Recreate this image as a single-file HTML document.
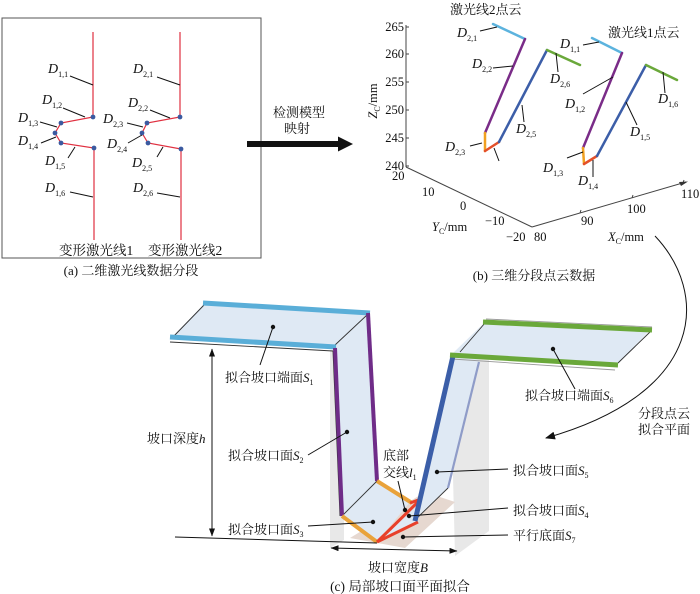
<!DOCTYPE html>
<html><head><meta charset="utf-8"><style>
html,body{margin:0;padding:0;background:#fff}
svg{display:block}
.c{font-family:"Liberation Serif","Noto Serif CJK SC",serif;font-size:13px;fill:#111}
.d{font-family:"Liberation Serif",serif;font-size:14px;font-style:italic;fill:#111}
.n{font-family:"Liberation Serif",serif;font-size:12.5px;fill:#111}
.s{font-size:8px;font-style:normal}
</style></head><body>
<svg width="700" height="594" viewBox="0 0 700 594" xmlns="http://www.w3.org/2000/svg">
<defs>
<marker id="ah" markerWidth="10" markerHeight="8" refX="9" refY="4" orient="auto" markerUnits="userSpaceOnUse">
<path d="M0,0 L10,4 L0,8 Z" fill="#111"/></marker>
<marker id="ahs" markerWidth="8" markerHeight="6" refX="7.5" refY="3" orient="auto" markerUnits="userSpaceOnUse">
<path d="M0,0 L8,3 L0,6 Z" fill="#111"/></marker>
<marker id="ahr" markerWidth="8" markerHeight="6" refX="0.5" refY="3" orient="auto" markerUnits="userSpaceOnUse">
<path d="M8,0 L0,3 L8,6 Z" fill="#111"/></marker>
</defs>

<!-- ===== Panel (a) ===== -->
<rect x="2" y="18" width="259" height="240" fill="none" stroke="#555" stroke-width="1"/>
<g stroke="#e03040" stroke-width="1.2" fill="none">
<polyline points="93,32 93,117 61,123 55,133 61,143 94,148 94,240"/>
<polyline points="180,32 180,117 147,123 142,133 148,143 181,149 181,240"/>
</g>
<g fill="#3b5aa0">
<circle cx="93" cy="117" r="2.4"/><circle cx="61" cy="123" r="2.4"/><circle cx="55" cy="133" r="2.4"/><circle cx="61" cy="143" r="2.4"/><circle cx="94" cy="148" r="2.4"/>
<circle cx="180" cy="117" r="2.4"/><circle cx="147" cy="123" r="2.4"/><circle cx="142" cy="133" r="2.4"/><circle cx="148" cy="143" r="2.4"/><circle cx="181" cy="149" r="2.4"/>
</g>
<g stroke="#111" stroke-width="1">
<line x1="70" y1="76" x2="93" y2="85"/>
<line x1="63" y1="108" x2="85" y2="117"/>
<line x1="40" y1="122" x2="57" y2="127"/>
<line x1="41" y1="143" x2="56" y2="137"/>
<line x1="68" y1="158" x2="75" y2="147"/>
<line x1="70" y1="192" x2="93" y2="197"/>
<line x1="157" y1="77" x2="180" y2="85"/>
<line x1="150" y1="110" x2="170" y2="118"/>
<line x1="127" y1="123" x2="143" y2="127"/>
<line x1="128" y1="143" x2="142" y2="135"/>
<line x1="157" y1="157" x2="163" y2="147"/>
<line x1="157" y1="193" x2="180" y2="197"/>
</g>
<text class="d" x="48" y="73">D<tspan class="s" dy="4">1,1</tspan></text>
<text class="d" x="42" y="104">D<tspan class="s" dy="4">1,2</tspan></text>
<text class="d" x="18" y="122">D<tspan class="s" dy="4">1,3</tspan></text>
<text class="d" x="18" y="145">D<tspan class="s" dy="4">1,4</tspan></text>
<text class="d" x="45" y="165">D<tspan class="s" dy="4">1,5</tspan></text>
<text class="d" x="45" y="192">D<tspan class="s" dy="4">1,6</tspan></text>
<text class="d" x="133" y="73">D<tspan class="s" dy="4">2,1</tspan></text>
<text class="d" x="128" y="107">D<tspan class="s" dy="4">2,2</tspan></text>
<text class="d" x="103" y="123">D<tspan class="s" dy="4">2,3</tspan></text>
<text class="d" x="107" y="148">D<tspan class="s" dy="4">2,4</tspan></text>
<text class="d" x="132" y="167">D<tspan class="s" dy="4">2,5</tspan></text>
<text class="d" x="133" y="192">D<tspan class="s" dy="4">2,6</tspan></text>
<text class="c" x="59" y="255" style="font-size:13.5px">变形激光线1</text>
<text class="c" x="148" y="255" style="font-size:13.5px">变形激光线2</text>
<text class="c" x="131" y="275" text-anchor="middle">(a) 二维激光线数据分段</text>

<!-- ===== middle arrow ===== -->
<rect x="247" y="141" width="92" height="6" fill="#111"/>
<polygon points="338,136.5 353,144 338,151.5" fill="#111"/>
<text class="c" x="299" y="117" text-anchor="middle">检测模型</text>
<text class="c" x="297" y="133" text-anchor="middle">映射</text>

<!-- ===== Panel (b) ===== -->
<g stroke="#444" stroke-width="1" fill="none">
<line x1="406" y1="25" x2="406" y2="167"/>
<line x1="406" y1="167" x2="532" y2="227"/>
<line x1="532" y1="227" x2="686" y2="182"/>
<path d="M406,27 h3 M406,54 h3 M406,82 h3 M406,110 h3 M406,138 h3 M406,166 h3"/>
<path d="M580,213 l1,-3 M632,198 l1,-3 M683,183 l1,-3"/>
</g>
<polygon points="688,181.5 679,182 681,186" fill="#333"/>
<g class="n" text-anchor="end">
<text x="404" y="31">265</text><text x="404" y="58">260</text><text x="404" y="86">255</text>
<text x="404" y="114">250</text><text x="404" y="142">245</text><text x="404" y="170">240</text>
</g>
<g class="n">
<text x="392" y="180">20</text><text x="422" y="196">10</text><text x="460" y="210">0</text>
<text x="485" y="225">−10</text><text x="506" y="241">−20</text><text x="534" y="241">80</text>
<text x="581" y="225">90</text><text x="627" y="213">100</text><text x="681" y="198">110</text>
</g>
<text class="n" transform="translate(377,101) rotate(-90)" text-anchor="middle"><tspan font-style="italic">Z</tspan><tspan class="s" dy="3">C</tspan><tspan dy="-3">/mm</tspan></text>
<text class="n" x="432" y="231"><tspan font-style="italic">Y</tspan><tspan class="s" dy="3">C</tspan><tspan dy="-3">/mm</tspan></text>
<text class="n" x="608" y="241"><tspan font-style="italic">X</tspan><tspan class="s" dy="3">C</tspan><tspan dy="-3">/mm</tspan></text>

<g stroke-width="2.5" fill="none" stroke-linecap="round">
<line x1="493" y1="24" x2="525" y2="39" stroke="#5cb3de"/>
<line x1="525" y1="39" x2="485" y2="133" stroke="#7a2c88"/>
<line x1="485" y1="133" x2="485" y2="151" stroke="#f0a020"/>
<line x1="485" y1="151" x2="499" y2="142" stroke="#e4502a"/>
<line x1="499" y1="142" x2="547" y2="50" stroke="#3c5ea8"/>
<line x1="547" y1="50" x2="580" y2="65" stroke="#6aa83a"/>
<line x1="592" y1="38" x2="622" y2="53" stroke="#5cb3de"/>
<line x1="622" y1="53" x2="583" y2="148" stroke="#7a2c88"/>
<line x1="583" y1="148" x2="584" y2="164" stroke="#f0a020"/>
<line x1="584" y1="164" x2="597" y2="156" stroke="#e4502a"/>
<line x1="597" y1="156" x2="646" y2="65" stroke="#3c5ea8"/>
<line x1="646" y1="65" x2="677" y2="80" stroke="#6aa83a"/>
</g>
<g stroke="#111" stroke-width="1">
<line x1="480" y1="31" x2="497" y2="27"/>
<line x1="493" y1="68" x2="513" y2="66"/>
<line x1="558" y1="72" x2="556" y2="53"/>
<line x1="524" y1="122" x2="522" y2="105"/>
<line x1="470" y1="146" x2="482" y2="143"/>
<line x1="494" y1="148" x2="499" y2="161"/>
<line x1="583" y1="45" x2="599" y2="42"/>
<line x1="583" y1="94" x2="613" y2="77"/>
<line x1="665" y1="93" x2="663" y2="72"/>
<line x1="637" y1="125" x2="626" y2="102"/>
<line x1="567" y1="158" x2="583" y2="152"/>
<line x1="593" y1="177" x2="593" y2="160"/>
</g>
<text class="d" x="457" y="37">D<tspan class="s" dy="4">2,1</tspan></text>
<text class="d" x="472" y="68">D<tspan class="s" dy="4">2,2</tspan></text>
<text class="d" x="550" y="83">D<tspan class="s" dy="4">2,6</tspan></text>
<text class="d" x="516" y="133">D<tspan class="s" dy="4">2,5</tspan></text>
<text class="d" x="445" y="151">D<tspan class="s" dy="4">2,3</tspan></text>
<text class="d" x="560" y="48">D<tspan class="s" dy="4">1,1</tspan></text>
<text class="d" x="565" y="108">D<tspan class="s" dy="4">1,2</tspan></text>
<text class="d" x="658" y="103">D<tspan class="s" dy="4">1,6</tspan></text>
<text class="d" x="630" y="136">D<tspan class="s" dy="4">1,5</tspan></text>
<text class="d" x="543" y="172">D<tspan class="s" dy="4">1,3</tspan></text>
<text class="d" x="578" y="185">D<tspan class="s" dy="4">1,4</tspan></text>
<text class="c" x="450" y="14">激光线2点云</text>
<text class="c" x="608" y="37">激光线1点云</text>
<text class="c" x="534" y="280" text-anchor="middle">(b) 三维分段点云数据</text>

<!-- curved arrow -->
<path d="M655,236 C708,292 708,392 546,438" fill="none" stroke="#111" stroke-width="1" marker-end="url(#ah)"/>
<text class="c" x="638" y="418">分段点云</text>
<text class="c" x="638" y="434">拟合平面</text>

<!-- ===== Panel (c) ===== -->
<polygon points="330,350 344,350 344,540 330,548" fill="#d9d9d9" opacity="0.6"/>
<polygon points="450,358 489,356 489,531 455,556" fill="#d9d9d9" opacity="0.6"/>
<polygon points="350,538 425,492 455,502 405,548" fill="#e6d8d0"/>

<g fill="#dfe9f4" stroke="none">
<polygon points="205,303 368,313 335,347 172,337"/>
<polygon points="335,347 368,313 377,481 342,516"/>
<polygon points="342,516 377,481 410,502 377,542"/>
<polygon points="377,542 420,499 417,522"/>
<polygon points="415,520 452,356 480,360 448,488"/>
<polygon points="485,322 650,330 617,365 452,354"/>
</g>
<g stroke="#333" stroke-width="0.9" fill="none">
<line x1="205" y1="304" x2="173" y2="337"/>
<line x1="170" y1="342" x2="333" y2="351"/>
<line x1="335" y1="345" x2="367" y2="315"/>
<line x1="333" y1="351" x2="340" y2="516"/>
<line x1="342" y1="516" x2="377" y2="481"/>
<line x1="415" y1="520" x2="448" y2="488"/>
<line x1="485" y1="323" x2="460" y2="352"/>
<line x1="650" y1="332" x2="618" y2="363"/>
<line x1="452" y1="359" x2="615" y2="370" stroke="#999"/>
<line x1="486" y1="319" x2="652" y2="327" stroke="#999"/>
</g>
<line x1="448" y1="488" x2="479" y2="362" stroke="#8f9cc8" stroke-width="2.2"/>
<g fill="none" stroke-linecap="butt">
<line x1="203" y1="303" x2="370" y2="313" stroke="#5aaed8" stroke-width="5"/>
<line x1="170" y1="337" x2="336" y2="347" stroke="#5aaed8" stroke-width="5"/>
<line x1="368" y1="313" x2="377" y2="481" stroke="#6f2c88" stroke-width="4"/>
<line x1="335" y1="348" x2="342" y2="516" stroke="#6f2c88" stroke-width="4"/>
<line x1="377" y1="481" x2="412" y2="503" stroke="#e9a23a" stroke-width="4"/>
<line x1="342" y1="516" x2="377" y2="542" stroke="#e9a23a" stroke-width="4"/>
<line x1="377" y1="542" x2="421" y2="499" stroke="#e8402a" stroke-width="3"/>
<line x1="377" y1="542" x2="418" y2="522" stroke="#e8402a" stroke-width="3"/>
<line x1="410" y1="503" x2="421" y2="499" stroke="#e8402a" stroke-width="3"/>
<line x1="415" y1="521" x2="453" y2="356" stroke="#3b5ea8" stroke-width="5"/>
<line x1="483" y1="322" x2="652" y2="330" stroke="#6aa83a" stroke-width="5"/>
<line x1="450" y1="355" x2="618" y2="365" stroke="#6aa83a" stroke-width="5"/>
</g>

<g stroke="#111" stroke-width="1" fill="none">
<line x1="175" y1="537" x2="377" y2="543"/>
<line x1="212" y1="349" x2="212" y2="536" marker-start="url(#ahr)" marker-end="url(#ahs)"/>
<line x1="331" y1="548" x2="457" y2="551" marker-start="url(#ahr)" marker-end="url(#ahs)"/>
</g>

<g stroke="#111" stroke-width="1">
<line x1="260" y1="365" x2="273" y2="327"/>
<line x1="308" y1="455" x2="347" y2="432"/>
<line x1="308" y1="526" x2="373" y2="522"/>
<line x1="398" y1="481" x2="405" y2="510"/>
<line x1="508" y1="469" x2="437" y2="472"/>
<line x1="508" y1="508" x2="409" y2="516"/>
<line x1="508" y1="535" x2="403" y2="537"/>
<line x1="575" y1="389" x2="553" y2="349"/>
</g>
<g fill="#111">
<circle cx="273" cy="327" r="2.2"/><circle cx="347" cy="432" r="2.2"/><circle cx="373" cy="522" r="2.2"/>
<circle cx="405" cy="510" r="2.2"/><circle cx="437" cy="472" r="2.2"/><circle cx="409" cy="516" r="2.2"/>
<circle cx="403" cy="537" r="2.2"/><circle cx="553" cy="349" r="2.2"/>
</g>

<text class="c" x="225" y="382">拟合坡口端面<tspan font-style="italic">S</tspan><tspan class="s" dy="3">1</tspan></text>
<text class="c" x="228" y="460">拟合坡口面<tspan font-style="italic">S</tspan><tspan class="s" dy="3">2</tspan></text>
<text class="c" x="228" y="534">拟合坡口面<tspan font-style="italic">S</tspan><tspan class="s" dy="3">3</tspan></text>
<text class="c" x="383" y="460">底部</text>
<text class="c" x="383" y="477">交线<tspan font-style="italic">l</tspan><tspan class="s" dy="3">1</tspan></text>
<text class="c" x="513" y="475">拟合坡口面<tspan font-style="italic">S</tspan><tspan class="s" dy="3">5</tspan></text>
<text class="c" x="513" y="515">拟合坡口面<tspan font-style="italic">S</tspan><tspan class="s" dy="3">4</tspan></text>
<text class="c" x="513" y="540">平行底面<tspan font-style="italic">S</tspan><tspan class="s" dy="3">7</tspan></text>
<text class="c" x="525" y="400">拟合坡口端面<tspan font-style="italic">S</tspan><tspan class="s" dy="3">6</tspan></text>
<text class="c" x="147" y="443">坡口深度<tspan font-style="italic">h</tspan></text>
<text class="c" x="368" y="572">坡口宽度<tspan font-style="italic">B</tspan></text>
<text class="c" x="400" y="591" text-anchor="middle" style="font-size:13.5px">(c) 局部坡口面平面拟合</text>
</svg>
</body></html>
